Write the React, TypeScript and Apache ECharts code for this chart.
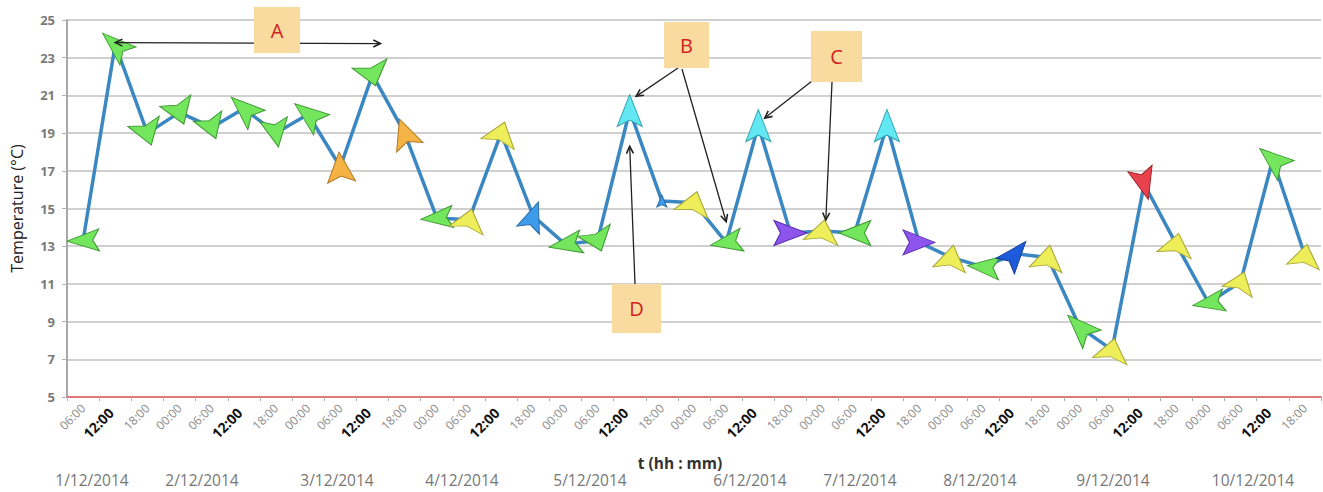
import React, { useEffect, useRef } from "react";
import * as echarts from "echarts";

// ---------------- data ----------------
const timeLabels = [
  "06:00", "12:00", "18:00",
  "00:00", "06:00", "12:00", "18:00",
  "00:00", "06:00", "12:00", "18:00",
  "00:00", "06:00", "12:00", "18:00",
  "00:00", "06:00", "12:00", "18:00",
  "00:00", "06:00", "12:00", "18:00",
  "00:00", "06:00", "12:00", "18:00",
  "00:00", "06:00", "12:00", "18:00",
  "00:00", "06:00", "12:00", "18:00",
  "00:00", "06:00", "12:00", "18:00",
];

const temperatures = [
  13.3, 23.7, 19.0,
  20.1, 19.3, 20.3, 19.0,
  20.0, 17.2, 22.1, 19.0,
  14.5, 14.4, 19.0, 14.6,
  13.1, 13.3, 20.2, 15.4,
  15.3, 13.2, 19.4, 13.7,
  13.8, 13.7, 19.4, 13.2,
  12.4, 11.9, 12.6, 12.4,
  8.7, 7.5, 16.3, 13.1,
  10.0, 11.1, 17.6, 12.5,
];

// arrow direction of each marker (degrees, counter-clockwise from "up")
const windDirections = [
  92, 48, 198,
  200, 200, 48, 190,
  52, 5, 195, 20,
  95, -15, -18, -20,
  100, 200, 0, 0,
  -15, 100, 0, -90,
  -10, 90, 0, -90,
  -10, 85, -40, -10,
  45, -12, 195, -12,
  100, -20, 50, -10,
];

// colour class of each marker
const markerKinds = [
  "g", "g", "g",
  "g", "g", "g", "g",
  "g", "o", "g", "o",
  "g", "y", "y", "b",
  "g", "g", "c", "b",
  "y", "g", "c", "p",
  "y", "g", "c", "p",
  "y", "g", "d", "y",
  "g", "y", "r", "y",
  "g", "y", "g", "y",
];

const dateLabels = [
  "1/12/2014", "2/12/2014", "3/12/2014", "4/12/2014", "5/12/2014",
  "6/12/2014", "7/12/2014", "8/12/2014", "9/12/2014", "10/12/2014",
];

const yTitle = "Temperature (°C)";
const xTitle = "t (hh : mm)";

// ---------------- styling / layout ----------------
const markerSizes: [number, number][] = [
  [22, 32], [24, 34], [33, 25],
  [33, 25], [30, 24], [26, 34], [28, 28],
  [26, 34], [28, 30], [36, 23], [28, 30],
  [22, 32], [35, 22], [35, 23], [24, 30],
  [23, 33], [35, 22], [25, 32], [10, 12],
  [35, 23], [23, 32], [25, 32], [25, 33],
  [35, 23], [25, 32], [25, 32], [25, 32],
  [33, 25], [23, 32], [24, 32], [33, 25],
  [26, 34], [35, 23], [25, 32], [35, 22],
  [22, 32], [32, 21], [26, 34], [33, 23],
];

const palette: Record<string, { fill: string; border: string }> = {
  g: { fill: "#74E65E", border: "#3f9a33" },
  y: { fill: "#EEEE5A", border: "#a8a83a" },
  o: { fill: "#F5B245", border: "#b07820" },
  c: { fill: "#62E8F2", border: "#2fa0b0" },
  b: { fill: "#3D9BE9", border: "#2a6aa8" },
  p: { fill: "#8E55EE", border: "#5a2fb0" },
  d: { fill: "#1E5BDB", border: "#143e99" },
  r: { fill: "#E8424F", border: "#a0202a" },
};

const dartPath = "path://M50,0 L100,100 L50,80 L0,100 Z";

const dateLabelX = [92, 202, 337, 462, 590, 750, 860, 980, 1113, 1253];

// annotation boxes: letter, box rect (pixels)
const boxes = [
  { t: "A", x: 254, y: 7, w: 46, h: 46 },
  { t: "B", x: 664, y: 22, w: 45, h: 46 },
  { t: "C", x: 811, y: 31, w: 51, h: 51 },
  { t: "D", x: 612, y: 284, w: 49, h: 49 },
];

// arrows: start (pixel), target in data coords [category index, value]
const pointerArrows = [
  { from: [678, 68], to: [17.2, 20.95] },
  { from: [682, 69], to: [20.0, 14.3] },
  { from: [812, 81], to: [21.2, 19.8] },
  { from: [832, 82], to: [23.1, 14.4] },
  { from: [635, 284], to: [17.0, 18.3] },
];
const spanArrow = { from: [1.0, 23.8], to: [9.25, 23.75] };

function headPoints(x1: number, y1: number, x2: number, y2: number, len = 8, ang = 26) {
  const a = Math.atan2(y2 - y1, x2 - x1);
  const r = (ang * Math.PI) / 180;
  return [
    [x2 - len * Math.cos(a - r), y2 - len * Math.sin(a - r)],
    [x2, y2],
    [x2 - len * Math.cos(a + r), y2 - len * Math.sin(a + r)],
  ];
}

export default function App() {
  const ref = useRef<HTMLDivElement>(null);

  useEffect(() => {
    const chart = echarts.init(ref.current!, null, { renderer: "svg" });

    const seriesData = temperatures.map((v, i) => {
      const pal = palette[markerKinds[i]];
      return {
        value: v,
        symbol: dartPath,
        symbolSize: markerSizes[i],
        symbolRotate: windDirections[i],
        itemStyle: { color: pal.fill, borderColor: pal.border, borderWidth: 1 },
      };
    });

    chart.setOption({
      animation: false,
      backgroundColor: "#ffffff",
      grid: { left: 67, right: 2, top: 20, bottom: 95, containLabel: false },
      xAxis: {
        type: "category",
        data: timeLabels,
        boundaryGap: true,
        axisLine: { lineStyle: { color: "#E07878", width: 2 } },
        axisTick: { show: true, length: 4, lineStyle: { color: "#b0b0b0" } },
        axisLabel: {
          interval: 0,
          rotate: 45,
          margin: 9,
          formatter: (v: string) => (v === "12:00" ? `{b|${v}}` : `{n|${v}}`),
          rich: {
            b: { fontWeight: "bold", fontSize: 14, color: "#111", fontFamily: "Open Sans", padding: [0, 6, 0, 0] },
            n: { fontSize: 12, color: "#8c8c8c", fontFamily: "Open Sans" },
          },
        },
        splitLine: { show: false },
      },
      yAxis: {
        type: "value",
        min: 5,
        max: 25,
        interval: 2,
        axisLine: { show: true, lineStyle: { color: "#a8a8a8", width: 2 } },
        axisTick: { show: true, length: 5, lineStyle: { color: "#b0b0b0" } },
        axisLabel: { color: "#7a7a7a", fontSize: 13, fontWeight: "bold", margin: 12, fontFamily: "Open Sans" },
        splitLine: { lineStyle: { color: "#d0d0d0", width: 2 } },
        name: yTitle,
        nameLocation: "middle",
        nameGap: 42,
        nameTextStyle: { color: "#222", fontSize: 16, fontFamily: "Open Sans" },
      },
      series: [
        {
          type: "line",
          data: seriesData,
          showAllSymbol: true,
          lineStyle: { color: "#3A87C2", width: 3.5 },
          z: 3,
        },
      ],
    });

    const p0 = chart.convertToPixel({ gridIndex: 0 }, [0, 5]) as number[];
    const p1 = chart.convertToPixel({ gridIndex: 0 }, [1, 5]) as number[];
    const step = p1[0] - p0[0];
    const toPx = (i: number, v: number) => {
      const py = chart.convertToPixel({ gridIndex: 0 }, [0, v]) as number[];
      return [p0[0] + step * i, py[1]];
    };

    const lineStyle = { stroke: "#222", lineWidth: 1.3 };
    const elements: any[] = [];

    // span arrow A (double headed)
    const s1 = toPx(spanArrow.from[0], spanArrow.from[1]);
    const s2 = toPx(spanArrow.to[0], spanArrow.to[1]);
    elements.push({ type: "line", shape: { x1: s1[0], y1: s1[1], x2: s2[0], y2: s2[1] }, style: lineStyle, z: 10 });
    elements.push({ type: "polyline", shape: { points: headPoints(s2[0], s2[1], s1[0], s1[1]) }, style: { ...lineStyle, lineWidth: 1.6, fill: null }, z: 10 });
    elements.push({ type: "polyline", shape: { points: headPoints(s1[0], s1[1], s2[0], s2[1]) }, style: { ...lineStyle, lineWidth: 1.6, fill: null }, z: 10 });

    pointerArrows.forEach((a) => {
      const t = toPx(a.to[0], a.to[1]);
      elements.push({ type: "line", shape: { x1: a.from[0], y1: a.from[1], x2: t[0], y2: t[1] }, style: lineStyle, z: 10 });
      elements.push({ type: "polyline", shape: { points: headPoints(a.from[0], a.from[1], t[0], t[1]) }, style: { ...lineStyle, lineWidth: 1.6, fill: null }, z: 10 });
    });

    boxes.forEach((b) => {
      elements.push({ type: "rect", shape: { x: b.x, y: b.y, width: b.w, height: b.h }, style: { fill: "#F9DBA0" }, z: 20 });
      elements.push({
        type: "text",
        x: b.x + b.w / 2,
        y: b.y + b.h / 2,
        style: { text: b.t, fill: "#D42020", fontSize: 20, fontFamily: "Open Sans", align: "center", verticalAlign: "middle" },
        z: 21,
      });
    });

    dateLabels.forEach((d, i) => {
      elements.push({
        type: "text",
        x: dateLabelX[i],
        y: 480,
        style: { text: d, fill: "#777", fontSize: 15.5, fontFamily: "Open Sans", align: "center", verticalAlign: "middle" },
        z: 5,
      });
    });

    elements.push({
      type: "text",
      x: 680,
      y: 463,
      style: { text: xTitle, fill: "#333", fontSize: 15.5, fontWeight: "bold", fontFamily: "Open Sans", align: "center", verticalAlign: "middle" },
      z: 5,
    });

    chart.setOption({ graphic: elements });

    return () => chart.dispose();
  }, []);

  return (
    <div
      ref={ref}
      style={{ position: "fixed", left: 0, top: 0, width: 1323, height: 492, background: "#fff" }}
    />
  );
}
